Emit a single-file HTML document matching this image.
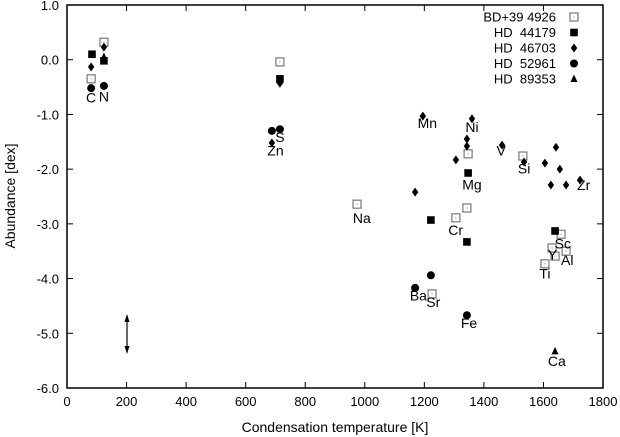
<!DOCTYPE html>
<html><head><meta charset="utf-8">
<style>
body{margin:0;background:#fff;}
svg{display:block;font-family:"Liberation Sans",sans-serif;}
</style></head>
<body>
<svg id="chart" width="620" height="437">
<rect x="67" y="5" width="536" height="383" fill="none" stroke="#000" stroke-width="1.5"/>
<g id="axes"></g>
<g id="marks"></g>
<g id="labels" font-size="14"></g>
<g id="legend" font-size="13"></g>
<text x="335" y="432" text-anchor="middle" font-size="14">Condensation temperature [K]</text>
<text transform="translate(15,196) rotate(-90)" text-anchor="middle" font-size="14">Abundance [dex]</text>
<g>
<line x1="127" y1="318" x2="127" y2="350" stroke="#000" stroke-width="1.2"/>
<polygon points="124.5,322 127,314 129.5,322" fill="#000"/>
<polygon points="124.5,346 127,354 129.5,346" fill="#000"/>
</g>
</svg>
<script>
const xTicks=[0,200,400,600,800,1000,1200,1400,1600,1800];
const yTicks=[1,0,-1,-2,-3,-4,-5,-6];
const seriesNames=["BD+39 4926","HD  44179","HD  46703","HD  52961","HD  89353"];
const seriesShapes=["open-square","square","diamond","circle","triangle"];
const bdT=[81,124,715,974,1347,1343,1306,1226,1531,1659,1629,1639,1676,1605];
const bdV=[-0.35,0.32,-0.04,-2.64,-1.72,-2.71,-2.89,-4.28,-1.76,-3.19,-3.44,-3.59,-3.50,-3.73];
const hd44T=[84,124,715,1222,1343,1347,1639];
const hd44V=[0.10,-0.02,-0.35,-2.93,-3.33,-2.07,-3.13];
const hd46T=[81,124,715,688,1195,1360,1343,1343,1306,1169,1461,1535,1605,1642,1655,1625,1676,1723];
const hd46V=[-0.13,0.23,-0.43,-1.52,-1.03,-1.08,-1.45,-1.58,-1.83,-2.42,-1.56,-1.87,-1.89,-1.60,-2.00,-2.29,-2.29,-2.20];
const hd52T=[81,124,688,715,1222,1169,1343];
const hd52V=[-0.52,-0.48,-1.30,-1.27,-3.94,-4.17,-4.67];
const hd89T=[124,715,1639];
const hd89V=[0.05,-0.38,-5.33];
const elemNames=["C","N","S","Zn","Mn","Ni","V","Si","Zr","Mg","Na","Cr","Sc","Y","Al","Ti","Ba","Sr","Fe","Ca"];
const elemT=[81,124,715,700,1210,1360,1458,1535,1735,1360,990,1305,1665,1630,1680,1605,1180,1230,1350,1645];
const elemV=[-0.78,-0.76,-1.50,-1.75,-1.25,-1.32,-1.75,-2.08,-2.38,-2.37,-2.98,-3.20,-3.45,-3.65,-3.75,-4.00,-4.40,-4.52,-4.90,-5.60];

const NS="http://www.w3.org/2000/svg";
const X=t=>67+t*(536/1800);
const Y=v=>5+(1-v)*(383/7);
function mk(tag,attrs,parent){const e=document.createElementNS(NS,tag);for(const k in attrs)e.setAttribute(k,attrs[k]);parent.appendChild(e);return e;}
const axes=document.getElementById('axes');
xTicks.forEach(t=>{
  const g=mk('g',{},axes);
  
  
  mk('line',{x1:X(t),x2:X(t),y1:388,y2:382,stroke:'#000'},g);
  mk('line',{x1:X(t),x2:X(t),y1:5,y2:11,stroke:'#000'},g);
  const tx=mk('text',{x:X(t),y:406,'text-anchor':'middle','font-size':13},g);tx.textContent=t;
});
yTicks.forEach(v=>{
  const g=mk('g',{},axes);
  
  
  mk('line',{x1:67,x2:73,y1:Y(v),y2:Y(v),stroke:'#000'},g);
  mk('line',{x1:603,x2:597,y1:Y(v),y2:Y(v),stroke:'#000'},g);
  const tx=mk('text',{x:59,y:Y(v)+5,'text-anchor':'end','font-size':13},g);tx.textContent=v.toFixed(1);
});
function marker(shape,x,y,parent){
  if(shape==="open-square"){
    mk('rect',{x:x-4,y:y-4,width:8,height:8,fill:'#fff',stroke:'#777','stroke-width':1.2},parent);
    mk('rect',{x:x-0.5,y:y-0.5,width:1,height:1,fill:'#777'},parent);
  }else if(shape==="square"){
    mk('rect',{x:x-3.8,y:y-3.8,width:7.6,height:7.6,fill:'#000'},parent);
  }else if(shape==="diamond"){
    mk('polygon',{points:`${x},${y-4.5} ${x+3.2},${y} ${x},${y+4.5} ${x-3.2},${y}`,fill:'#000'},parent);
  }else if(shape==="circle"){
    mk('circle',{cx:x,cy:y,r:4,fill:'#000'},parent);
  }else{
    mk('polygon',{points:`${x},${y-4.5} ${x+3.5},${y+3} ${x-3.5},${y+3}`,fill:'#000'},parent);
  }
}
const marks=document.getElementById('marks');
const sets=[[bdT,bdV],[hd44T,hd44V],[hd46T,hd46V],[hd52T,hd52V],[hd89T,hd89V]];
sets.forEach((s,i)=>{
  const g=mk('g',{},marks);
  
  
  s[0].forEach((t,j)=>{
    const p=mk('g',{},g);
    
    
    marker(seriesShapes[i],X(t),Y(s[1][j]),p);
  });
});
const labels=document.getElementById('labels');
elemNames.forEach((n,i)=>{
  const t=mk('text',{x:X(elemT[i]),y:Y(elemV[i]),'text-anchor':'middle'},labels);
  
  
  t.textContent=n;
});
const legend=document.getElementById('legend');
seriesNames.forEach((n,i)=>{
  const g=mk('g',{},legend);
  
  
  const y=17+i*15.5;
  const t=mk('text',{x:556,y:y+4.5,'text-anchor':'end','xml:space':'preserve'},g);
  t.setAttribute('style','white-space:pre');
  t.textContent=n;
  marker(seriesShapes[i],574,y,g);
});
</script>
</body></html>
